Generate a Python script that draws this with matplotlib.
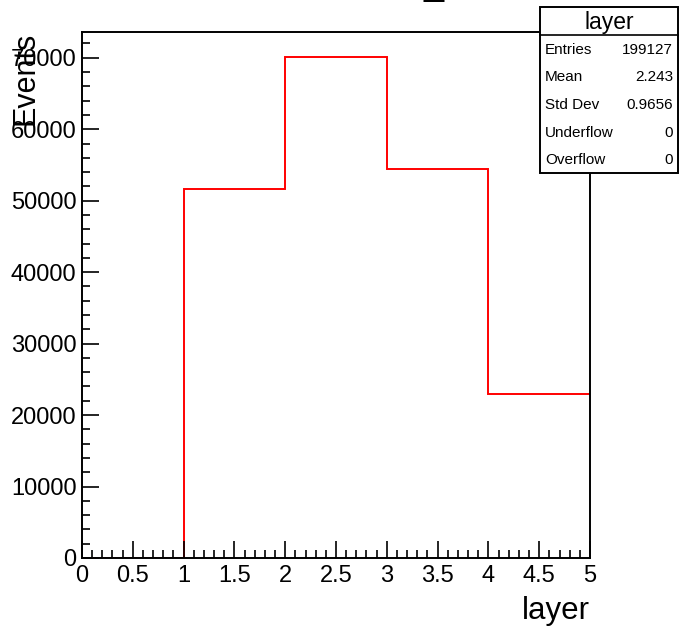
import matplotlib
matplotlib.use("Agg")
import matplotlib.pyplot as plt
from matplotlib.ticker import MultipleLocator
from matplotlib.patches import Rectangle

plt.rcParams['font.family'] = ['Liberation Sans', 'DejaVu Sans']

# data
bin_edges = [0, 1, 2, 3, 4, 5]
bin_counts = [0, 51700, 70100, 54400, 22900]
x_title = "layer"
y_title = "Events"
stats_title = "layer"
stats_names = ["Entries", "Mean", "Std Dev", "Underflow", "Overflow"]
stats_values = ["199127", "2.243", "0.9656", "0", "0"]

W, H = 680, 629
fig = plt.figure(figsize=(W / 100, H / 100), dpi=100)

L, R, T, B = 82, 590, 32, 558
ax = fig.add_axes([L / W, (H - B) / H, (R - L) / W, (B - T) / H])
ax.stairs(bin_counts, bin_edges, baseline=None, color='red', linewidth=1.4)
ax.set_xlim(bin_edges[0], bin_edges[-1])
ax.set_ylim(0, 1.05 * max(bin_counts))

ax.xaxis.set_major_locator(MultipleLocator(0.5))
ax.xaxis.set_minor_locator(MultipleLocator(0.1))
ax.yaxis.set_major_locator(MultipleLocator(10000))
ax.yaxis.set_minor_locator(MultipleLocator(2000))
ax.xaxis.set_major_formatter(matplotlib.ticker.FuncFormatter(lambda v, p: f"{v:g}"))
ax.yaxis.set_major_formatter(matplotlib.ticker.FuncFormatter(lambda v, p: f"{v:.0f}"))
ax.tick_params(which='both', direction='in', top=False, right=False, width=1.2, labelsize=17)
ax.tick_params(which='major', length=12)
ax.tick_params(which='minor', length=6)
ax.tick_params(axis='x', which='major', pad=5)
ax.tick_params(axis='y', which='major', pad=4)
for s in ax.spines.values():
    s.set_linewidth(1.4)

fig.text(590 / W, 1 - 611 / H, x_title, ha='right', va='center', fontsize=22.5)
fig.text(10 / W, 1 - 32 / H, y_title, ha='left', va='top', rotation=90, fontsize=22)

# partial title at top edge (cut off)
fig.text(434 / W, 1 + 5 / H, "_", ha='center', va='baseline', fontsize=26)

# stats box
bx0, by0, bx1, by1 = 540, 7, 678, 173
sax = fig.add_axes([bx0 / W, (H - by1) / H, (bx1 - bx0) / W, (by1 - by0) / H])
sax.set_xlim(bx0, bx1)
sax.set_ylim(by1, by0)
sax.axis('off')
sax.add_patch(Rectangle((bx0, by0), bx1 - bx0, by1 - by0, facecolor='white',
                        edgecolor='black', linewidth=1.4, clip_on=False))
sep = 35
sax.plot([bx0, bx1], [sep, sep], color='black', linewidth=1.2, clip_on=False)
sax.text((bx0 + bx1) / 2, (by0 + sep) / 2 + 1, stats_title, ha='center', va='center', fontsize=16.5)
row_h = (by1 - sep) / len(stats_names)
for i, (n, v) in enumerate(zip(stats_names, stats_values)):
    yc = sep + row_h * (i + 0.5) + 1
    sax.text(545, yc, n, ha='left', va='center', fontsize=11)
    sax.text(673, yc, v, ha='right', va='center', fontsize=11)

fig.savefig("out.png", dpi=100)
